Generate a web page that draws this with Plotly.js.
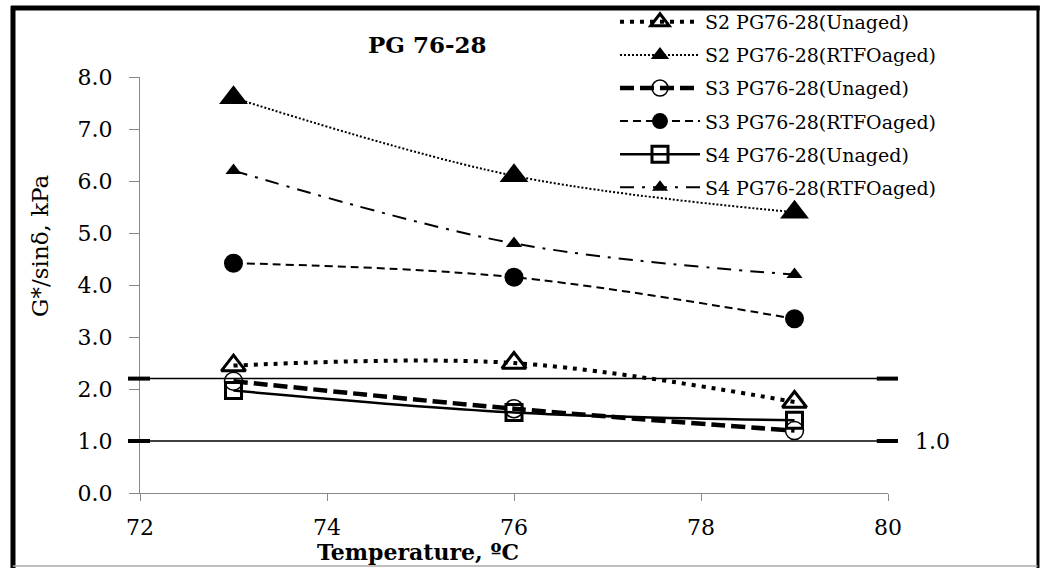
<!DOCTYPE html>
<html>
<head>
<meta charset="utf-8">
<script src="https://cdn.plot.ly/plotly-3.0.1.min.js"></script>
<style>
  html, body { margin: 0; padding: 0; background: #fff; }
  #chart { width: 1041px; height: 568px; }
</style>
</head>
<body>
<div id="chart"></div>
<script>
// ---- data ----
const temperatures = [73, 76, 79];
const s2Unaged = [2.45, 2.50, 1.75];
const s2Rtfo   = [7.60, 6.10, 5.40];
const s3Unaged = [2.15, 1.62, 1.20];
const s3Rtfo   = [4.42, 4.15, 3.35];
const s4Unaged = [1.97, 1.55, 1.40];
const s4Rtfo   = [6.20, 4.80, 4.20];
const seriesNames = [
  'S2 PG76-28(Unaged)', 'S2 PG76-28(RTFOaged)',
  'S3 PG76-28(Unaged)', 'S3 PG76-28(RTFOaged)',
  'S4 PG76-28(Unaged)', 'S4 PG76-28(RTFOaged)'
];
const xTicks = [72, 74, 76, 78, 80];
const yTicks = [0, 1, 2, 3, 4, 5, 6, 7, 8];
const refLines = [2.2, 1.0];
const refLabel = '1.0';

const serif = 'DejaVu Serif, Liberation Serif, serif';

function mk(name, y, lineStyle, marker, g) {
  return {
    x: temperatures, y: y, name: name, type: 'scatter', mode: 'lines+markers',
    line: Object.assign({color: '#000', shape: 'spline', smoothing: 1}, lineStyle),
    marker: Object.assign({color: '#000'}, marker),
    legendgroup: g
  };
}

const traces = [
  mk(seriesNames[0], s2Unaged, {width: 4, dash: '4px,6px'},
     {symbol: 'triangle-up-open', size: 21, line: {width: 3, color: '#000'}}, 'a'),
  mk(seriesNames[1], s2Rtfo, {width: 2, dash: '2px,2px'},
     {symbol: 'triangle-up', size: 25}, 'b'),
  mk(seriesNames[2], s3Unaged, {width: 4.5, dash: '14px,6px'},
     {symbol: 'circle-open', size: 18, line: {width: 1.5, color: '#000'}}, 'c'),
  mk(seriesNames[3], s3Rtfo, {width: 2, dash: '8px,5px'},
     {symbol: 'circle', size: 19}, 'd'),
  mk(seriesNames[4], s4Unaged, {width: 2.5},
     {symbol: 'square-open', size: 16, line: {width: 3, color: '#000'}}, 'e'),
  mk(seriesNames[5], s4Rtfo, {width: 2, dash: '14px,8px,3px,8px'},
     {symbol: 'triangle-up', size: 14}, 'f')
];

const shapes = [];
refLines.forEach(v => {
  shapes.push({type: 'line', xref: 'paper', yref: 'y', x0: -0.016, x1: 1.0134, y0: v, y1: v,
               line: {color: '#000', width: 1.5}});
  shapes.push({type: 'line', xref: 'paper', yref: 'y', x0: -0.016, x1: 0.0134, y0: v, y1: v,
               line: {color: '#000', width: 4}});
  shapes.push({type: 'line', xref: 'paper', yref: 'y', x0: 0.985, x1: 1.0134, y0: v, y1: v,
               line: {color: '#000', width: 4}});
});
// frame
shapes.push({type: 'line', xref: 'paper', yref: 'paper', x0: -0.1698, x1: -0.1698, y0: -0.18, y1: 1.17, line: {color: '#000', width: 5}});
shapes.push({type: 'line', xref: 'paper', yref: 'paper', x0: -0.1725, x1: 1.203, y0: 1.1659, y1: 1.1659, line: {color: '#000', width: 5}});
shapes.push({type: 'line', xref: 'paper', yref: 'paper', x0: 1.2005, x1: 1.2005, y0: -0.18, y1: 1.17, line: {color: '#000', width: 3}});
shapes.push({type: 'line', xref: 'paper', yref: 'paper', x0: -0.17, x1: 1.2, y0: -0.1755, y1: -0.1755, line: {color: '#aaa', width: 1.5}});

const layout = {
  width: 1041, height: 568,
  margin: {l: 140, r: 153, t: 77, b: 75, autoexpand: false},
  paper_bgcolor: '#fff', plot_bgcolor: '#fff',
  showlegend: true,
  legend: {
    x: 0.635, y: 1.178, xanchor: 'left', yanchor: 'top',
    bgcolor: 'rgba(0,0,0,0)', borderwidth: 0,
    font: {family: serif, size: 19, color: '#000'},
    itemwidth: 80, traceorder: 'grouped', tracegroupgap: 5.4
  },
  xaxis: {
    range: [72, 80], tickvals: xTicks, showgrid: false, zeroline: false,
    showline: true, linecolor: '#888', linewidth: 1,
    ticks: 'outside', ticklen: 7, tickcolor: '#888', ticklabelstandoff: 8,
    tickfont: {family: serif, size: 22, color: '#000'}
  },
  yaxis: {
    range: [0, 8], tickvals: yTicks, tickformat: '.1f', showgrid: false, zeroline: false,
    showline: true, linecolor: '#888', linewidth: 1,
    ticks: 'outside', ticklen: 10, tickcolor: '#888', ticklabelstandoff: 12,
    tickfont: {family: serif, size: 22, color: '#000'}
  },
  shapes: shapes,
  annotations: [
    {text: '<b>PG 76-28</b>', xref: 'paper', yref: 'paper', x: 0.385, y: 1.077,
     xanchor: 'center', yanchor: 'middle',
     showarrow: false, font: {family: serif, size: 23, color: '#000'}},
    {text: '<b>Temperature, ºC</b>', xref: 'paper', yref: 'paper', x: 0.372, y: -0.143,
     xanchor: 'center', yanchor: 'middle',
     showarrow: false, font: {family: serif, size: 22, color: '#000'}},
    {text: 'G*/sinδ, kPa', xref: 'paper', yref: 'paper', x: -0.1337, y: 0.594, textangle: -90,
     xanchor: 'center', yanchor: 'middle',
     showarrow: false, font: {family: serif, size: 23, color: '#000'}},
    {text: refLabel, xref: 'paper', yref: 'y', x: 1.0334, y: refLines[1],
     xanchor: 'left', yanchor: 'middle',
     showarrow: false, font: {family: serif, size: 22, color: '#000'}},
    {text: '(a)', xref: 'paper', yref: 'paper', x: 0.5, y: 1.1755, yanchor: 'bottom',
     showarrow: false, font: {family: serif, size: 20, color: '#000'}}
  ]
};

Plotly.newPlot('chart', traces, layout, {displayModeBar: false, staticPlot: true});
</script>
</body>
</html>
